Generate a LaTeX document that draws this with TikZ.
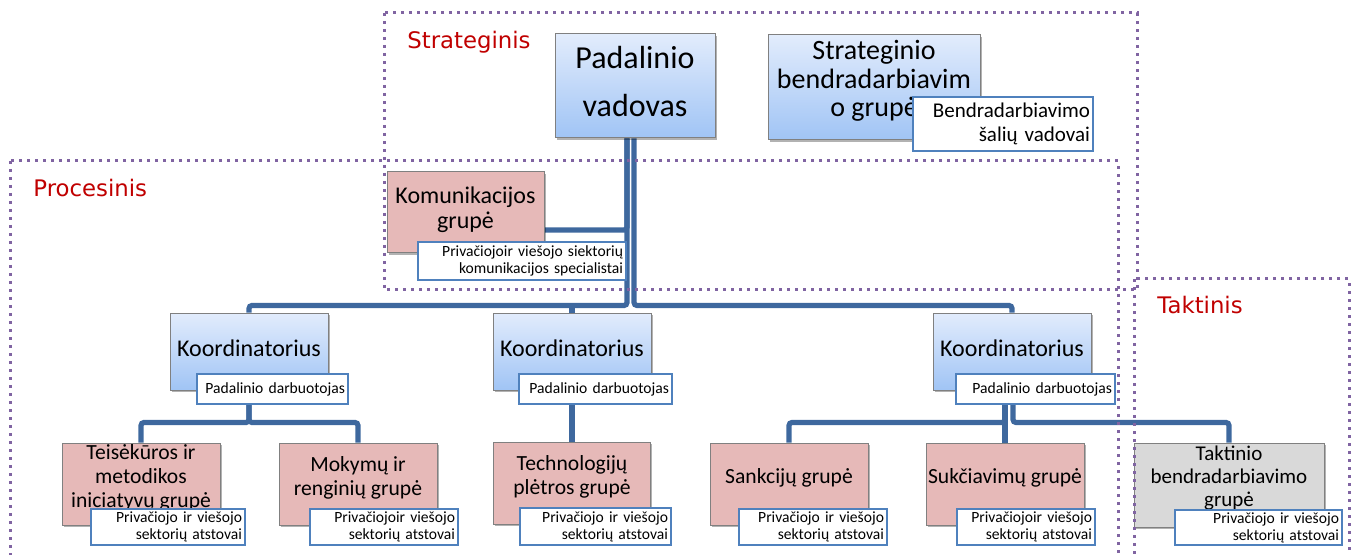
\documentclass[tikz,border=0pt]{standalone}
\usepackage{fontspec}
\setmainfont{Carlito}
\newfontfamily\zonefont{DejaVu Sans}
\usepackage{tikz}
\usetikzlibrary{calc,backgrounds,shadows}
\usepackage{xcolor}
\definecolor{bluetop}{RGB}{226,236,252}
\definecolor{bluebot}{RGB}{160,196,245}
\definecolor{boxgray}{RGB}{128,128,128}
\definecolor{pinkfill}{RGB}{230,185,184}
\definecolor{grayfill}{RGB}{217,217,217}
\definecolor{subblue}{RGB}{79,129,189}
\definecolor{connblue}{RGB}{62,104,158}
\definecolor{zonepurple}{RGB}{128,100,162}
\definecolor{zonered}{RGB}{192,0,0}

\begin{document}
\begin{tikzpicture}[
    x=0.5pt,y=-0.5pt,
    unit/.style={rectangle,draw=boxgray,line width=0.5pt,align=center,inner sep=0.5pt,
      drop shadow={shadow xshift=0.8pt,shadow yshift=-1.2pt,fill=black,opacity=0.3}},
    bluebox/.style={unit,top color=bluetop,bottom color=bluebot},
    pinkbox/.style={unit,fill=pinkfill,text depth=8pt,font=\fontsize{10.8}{12}\selectfont},
    graybox/.style={unit,fill=grayfill,text depth=8.8pt,font=\fontsize{10.5}{11.7}\selectfont},
    subbox/.style={rectangle,draw=subblue,line width=1pt,fill=white,align=right,
      inner xsep=1.5pt,inner ysep=0.5pt,font=\fontsize{7.8}{8.6}\selectfont},
    conn/.style={draw=connblue,line width=2.6pt,rounded corners=1.5pt},
    zone/.style={draw=zonepurple,line width=1.5pt,dash pattern=on 1.5pt off 2.5pt},
    zonelabel/.style={anchor=west,text=zonered,inner sep=0pt,font=\zonefont\fontsize{11.4}{13}\selectfont}
  ]
  \useasboundingbox (0,0) rectangle (1352,555);
  \clip (0,0) rectangle (1352,555);

  %% Strategic level
  \node[bluebox,minimum width=80pt,minimum height=52pt,text depth=5pt,font=\fontsize{16}{24}\selectfont]
    (vad) at (635,86) {Padalinio\\vadovas};
  \node[bluebox,minimum width=106pt,minimum height=52.5pt,text depth=9pt,font=\fontsize{14}{14.3}\selectfont]
    (strat) at (874,87.5) {Strateginio\\bendradarbiavim\\o grupė};
  \node[subbox,text width=87pt,minimum height=27pt,font=\fontsize{10.5}{12}\selectfont]
    (stratsub) at (1003,124) {Bendradarbiavimo\\šalių vadovai};

  \node[pinkbox,minimum width=78.5pt,minimum height=40.5pt,text depth=5pt,font=\fontsize{12}{12.5}\selectfont]
    (kom) at (465.5,212.5) {Komunikacijos\\grupė};
  \node[subbox,text width=101pt,minimum height=19pt] (komsub) at (522,261)
    {Privačiojoir viešojo siektorių\\komunikacijos specialistai};

  %% Coordinators
  \node[bluebox,minimum width=79pt,minimum height=38.5pt,text depth=3pt,font=\fontsize{12}{14}\selectfont]
    (k1) at (249,351.5) {Koordinatorius};
  \node[subbox,text width=72.5pt,minimum height=15pt] (k1sub) at (272.5,389) {Padalinio darbuotojas};
  \node[bluebox,minimum width=79pt,minimum height=38.5pt,text depth=3pt,font=\fontsize{12}{14}\selectfont]
    (k2) at (572,351.5) {Koordinatorius};
  \node[subbox,text width=73.5pt,minimum height=15pt] (k2sub) at (595.5,389) {Padalinio darbuotojas};
  \node[bluebox,minimum width=79pt,minimum height=38.5pt,text depth=3pt,font=\fontsize{12}{14}\selectfont]
    (k3) at (1012,351.5) {Koordinatorius};
  \node[subbox,text width=76.5pt,minimum height=15pt] (k3sub) at (1035.5,389) {Padalinio darbuotojas};

  %% Groups
  \node[pinkbox,minimum width=79pt,minimum height=41pt] (t1) at (141,484)
    {Teisėkūros ir\\metodikos\\iniciatyvų grupė};
  \node[subbox,text width=74pt,minimum height=18pt] (t1sub) at (168,527)
    {Privačiojo ir viešojo\\sektorių atstovai};
  \node[pinkbox,minimum width=79pt,minimum height=41pt] (t2) at (358,484) {Mokymų ir\\renginių grupė};
  \node[subbox,text width=71pt,minimum height=18pt] (t2sub) at (384,527)
    {Privačiojoir viešojo\\sektorių atstovai};
  \node[pinkbox,minimum width=78.5pt,minimum height=41pt] (t3) at (572,483) {Technologijų\\plėtros grupė};
  \node[subbox,text width=72.5pt,minimum height=18.5pt] (t3sub) at (595.5,526.5)
    {Privačiojo ir viešojo\\sektorių atstovai};
  \node[pinkbox,minimum width=79pt,minimum height=41pt] (t4) at (789,484) {Sankcijų grupė};
  \node[subbox,text width=71pt,minimum height=18pt] (t4sub) at (813,527)
    {Privačiojo ir viešojo\\sektorių atstovai};
  \node[pinkbox,minimum width=79pt,minimum height=41pt] (t5) at (1005,484) {Sukčiavimų grupė};
  \node[subbox,text width=66pt,minimum height=18pt] (t5sub) at (1026,527)
    {Privačiojoir viešojo\\sektorių atstovai};
  \node[graybox,minimum width=95pt,minimum height=42pt] (t6) at (1229,485)
    {Taktinio\\bendradarbiavimo\\grupė};
  \node[subbox,text width=80.5pt,minimum height=17.5pt] (t6sub) at (1258.5,527.5)
    {Privačiojo ir viešojo\\sektorių atstovai};

  %% Connectors behind the boxes
  \begin{scope}[on background layer]
    \draw[conn] ($(vad.south)+(-8,0)$) |- ($(kom.east)+(0,17.5)$);
    \draw[conn] ($(vad.south)+(-8,0)$) |- ($(k1.north)+(0,-7)$) -- (k1.north);
    \draw[conn] ($(k2.north)+(0,-7)$) -- (k2.north);
    \draw[conn] ($(vad.south)+(-1,0)$) |- ($(k3.north)+(0,-7)$) -- (k3.north);
    \draw[conn] (k1.south) |- ($(t1.north)+(0,-20)$) -- (t1.north);
    \draw[conn] (k1.south) |- ($(t2.north)+(0,-20)$) -- (t2.north);
    \draw[conn] (k2.south) -- (k2.south |- t3.north);
    \draw[conn] ($(k3.south)+(-7,0)$) |- ($(t4.north)+(0,-20)$) -- (t4.north);
    \draw[conn] ($(k3.south)+(-7,0)$) -- (t5.north);
    \draw[conn] ($(k3.south)+(1,0)$) |- ($(t6.north)+(0,-20)$) -- (t6.north);
  \end{scope}

  %% Levels
  \draw[zone] (384,13) rectangle (1137,290);
  \draw[zone] (10,161) rectangle (1118,575);
  \draw[zone] (1134,279) rectangle (1349,575);
  \node[zonelabel] (lstrat) at (407,42) {Strateginis};
  \node[zonelabel] (lproc) at (33,188) {Procesinis};
  \node[zonelabel] (ltakt) at (1157,305) {Taktinis};
\end{tikzpicture}
\end{document}
